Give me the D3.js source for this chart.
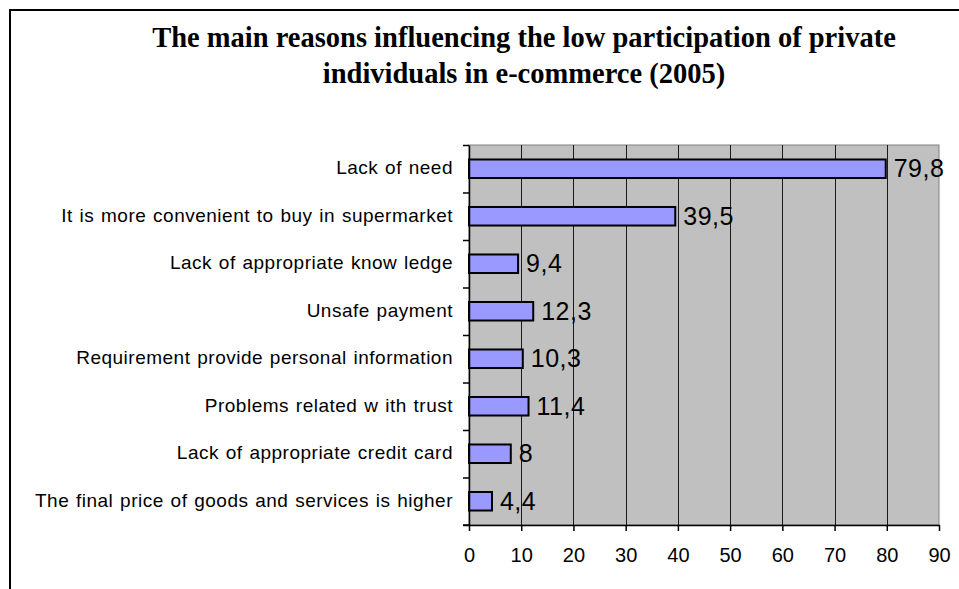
<!DOCTYPE html>
<html>
<head>
<meta charset="utf-8">
<script src="https://cdn.jsdelivr.net/npm/d3@7"></script>
<style>
  body { margin: 0; background: #fff; }
  svg { display: block; }
</style>
</head>
<body>
<div id="chart"></div>
<script>
var width = 959,
    height = 589,
    margin = {top: 145, right: 20, bottom: 64, left: 469};

// data, top to bottom as drawn
var reasons = [
  "Lack of need",
  "It is more convenient to buy in supermarket",
  "Lack of appropriate know ledge",
  "Unsafe payment",
  "Requirement provide personal information",
  "Problems related w ith trust",
  "Lack of appropriate credit card",
  "The final price of goods and services is higher"
];
var shares = [79.8, 39.5, 9.4, 12.3, 10.3, 11.4, 8, 4.4];
var labels = ["79,8", "39,5", "9,4", "12,3", "10,3", "11,4", "8", "4,4"];
var xTicks = [0, 10, 20, 30, 40, 50, 60, 70, 80, 90];
var titleLines = [
  "The main reasons influencing the low participation of private",
  "individuals in e-commerce (2005)"
];

var svg = d3.select("#chart").append("svg")
  .attr("width", width)
  .attr("height", height);

// outer frame (runs off the right and bottom edge)
svg.append("rect")
  .attr("x", 10).attr("y", 10)
  .attr("width", 1000).attr("height", 1000)
  .style("fill", "none")
  .style("stroke", "#000")
  .style("stroke-width", 2);

// title
svg.append("g").selectAll("text")
  .data(titleLines)
  .enter().append("text")
  .attr("x", 524)
  .attr("y", function(d, i) { return 47 + i * 36; })
  .style("text-anchor", "middle")
  .style("font", "bold 28.5px 'Liberation Serif', 'Times New Roman', serif")
  .style("fill", "#000")
  .text(function(d) { return d; });

var pw = 939 - margin.left,
    ph = 525 - margin.top;

var g = svg.append("g")
  .attr("transform", "translate(" + margin.left + "," + margin.top + ")");

var x = d3.scaleLinear().domain([0, 90]).range([0, pw]);

var y = d3.scaleBand()
  .domain(reasons)
  .range([0, ph])
  .paddingInner(0.61)
  .paddingOuter(0.305);

// plot area
g.append("rect")
  .attr("width", pw).attr("height", ph)
  .style("fill", "#c0c0c0")
  .style("stroke", "#808080")
  .style("stroke-width", 1);

// vertical grid lines
g.append("g").selectAll("line")
  .data(xTicks.filter(function(d) { return d > 0 && d < 90; }))
  .enter().append("line")
  .attr("x1", function(d) { return Math.round(x(d)) + 0.5; })
  .attr("x2", function(d) { return Math.round(x(d)) + 0.5; })
  .attr("y1", 0).attr("y2", ph)
  .style("stroke", "#1a1a1a")
  .style("stroke-width", 1);

// bars
g.append("g").selectAll("rect")
  .data(reasons)
  .enter().append("rect")
  .attr("x", 0)
  .attr("y", function(d) { return y(d); })
  .attr("width", function(d, i) { return x(shares[i]); })
  .attr("height", y.bandwidth())
  .style("fill", "#9999ff")
  .style("stroke", "#000")
  .style("stroke-width", 2);

// value labels
g.append("g").selectAll("text")
  .data(reasons)
  .enter().append("text")
  .attr("x", function(d, i) { return x(shares[i]) + 8; })
  .attr("y", function(d) { return y(d) + y.bandwidth() / 2; })
  .attr("dy", "0.34em")
  .style("font", "25px 'Liberation Sans', Arial, sans-serif")
  .style("letter-spacing", "0.5px")
  .style("fill", "#000")
  .text(function(d, i) { return labels[i]; });

// left axis: ticks on category boundaries
var yIdx = d3.scaleLinear().domain([0, reasons.length]).range([0, ph]);
g.append("g")
  .call(d3.axisLeft(yIdx).tickValues(d3.range(reasons.length + 1))
    .tickFormat("").tickSize(6).tickSizeOuter(0))
  .call(function(a) { a.selectAll("line, path").style("stroke", "#000").style("stroke-width", 1.5); });

// category labels
g.append("g")
  .call(d3.axisLeft(y).tickSize(0).tickPadding(16))
  .call(function(a) {
    a.select(".domain").remove();
    a.selectAll("text")
      .attr("dy", "0.28em")
      .style("font", "19px 'Liberation Sans', Arial, sans-serif")
      .style("letter-spacing", "0.5px")
      .style("word-spacing", "1px")
      .style("fill", "#000");
  });

// bottom axis
g.append("g")
  .attr("transform", "translate(0," + ph + ")")
  .call(d3.axisBottom(x).tickValues(xTicks).tickSize(6).tickSizeOuter(0).tickPadding(17))
  .call(function(a) {
    a.selectAll("line, path").style("stroke", "#000").style("stroke-width", 1.5);
    a.selectAll("text")
      .style("font", "20px 'Liberation Sans', Arial, sans-serif")
      .style("fill", "#000");
  });
// extend bottom axis line left to the tick length
g.append("line")
  .attr("x1", -6).attr("x2", 0)
  .attr("y1", ph).attr("y2", ph)
  .style("stroke", "#000").style("stroke-width", 1.5);
</script>
</body>
</html>
